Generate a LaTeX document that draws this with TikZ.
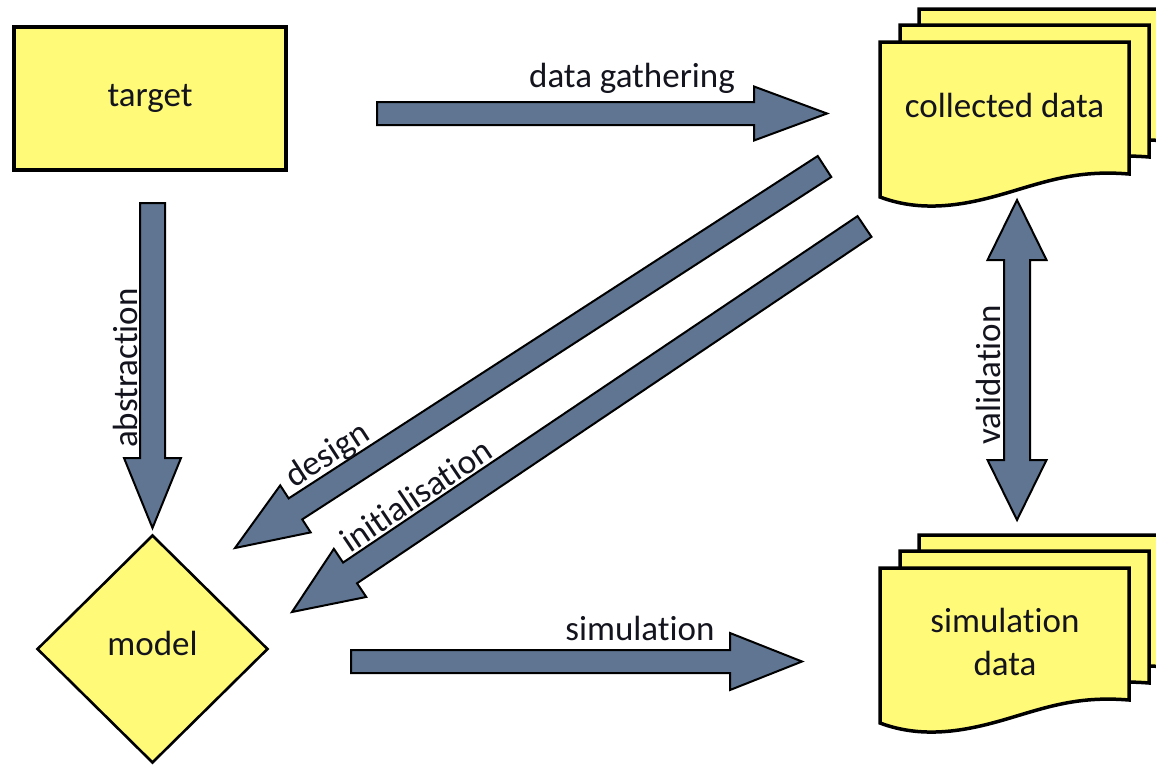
\documentclass[tikz,border=0pt]{standalone}
\usepackage{fontspec}
\setmainfont{Carlito}[Ligatures=NoCommon]
\usetikzlibrary{calc,shapes.geometric}
\definecolor{docyellow}{RGB}{255,250,120}
\definecolor{arrowfill}{RGB}{95,117,146}
\definecolor{txt}{RGB}{20,20,30}
% block arrow: from, to, shaft half width, head half width, head length (px)
\newcommand\blockarrow[5]{%
  \coordinate (hb) at ($(#2)!#5pt!(#1)$);
  \draw[barrow] ($(#1)!#3pt!90:(#2)$) -- ($(hb)!#3pt!90:(#2)$) -- ($(hb)!#4pt!90:(#2)$)
    -- (#2) -- ($(hb)!#4pt!-90:(#2)$) -- ($(hb)!#3pt!-90:(#2)$) -- ($(#1)!#3pt!-90:(#2)$) -- cycle;}
\newcommand\dblockarrow[5]{%
  \coordinate (ha) at ($(#1)!#5pt!(#2)$);
  \coordinate (hb) at ($(#2)!#5pt!(#1)$);
  \draw[barrow] (#1) -- ($(ha)!#4pt!90:(#2)$) -- ($(ha)!#3pt!90:(#2)$) -- ($(hb)!#3pt!90:(#2)$)
    -- ($(hb)!#4pt!90:(#2)$) -- (#2) -- ($(hb)!#4pt!-90:(#2)$) -- ($(hb)!#3pt!-90:(#2)$)
    -- ($(ha)!#3pt!-90:(#2)$) -- ($(ha)!#4pt!-90:(#2)$) -- cycle;}
\newcommand\docstack[2]{%
  \foreach \dx/\dy in {39/-33, 20/-17, 0/0} {
    \draw[docstyle, shift={(#1+\dx,#2+\dy)}] (0,0) -- (249,0) -- (249,132)
      .. controls (200,128) and (170,138) .. (130,150)
      .. controls (90,162) and (45,172) .. (0,155) -- cycle;
  }}
\begin{document}
\begin{tikzpicture}[x=1pt,y=-1pt,
  lbl/.style={font=\fontsize{35}{43}\selectfont, text=txt, inner sep=0pt},
  barrow/.style={draw=black, fill=arrowfill, line width=2pt, line join=miter},
  docstyle/.style={draw=black, fill=docyellow, line width=3.5pt},
  boxstyle/.style={draw=black, fill=docyellow, line width=3.3pt, lbl}]
\useasboundingbox (0,0) rectangle (1156,766);
\clip (0,0) rectangle (1156,766);
\fill[white] (0,0) rectangle (1156,766);

% nodes
\node[boxstyle, rectangle, minimum width=272pt, minimum height=143pt] (target) at (150,98.5) {target};
\node[boxstyle, diamond, line width=2.6pt, minimum width=231pt, minimum height=228pt, text depth=12pt] (model) at (152.5,649) {model};
\docstack{880}{42}
\node[lbl, anchor=base] (coll) at (1004.5,117) {collected data};
\docstack{880}{568}
\node[lbl, align=center] (simdata) at (1005,642) {simulation\\data};

% arrow end points
\coordinate (dg-s) at (377,113.5);  \coordinate (dg-e) at (827,113.5);
\coordinate (si-s) at (351,661.5);  \coordinate (si-e) at (802,661.5);
\coordinate (ab-s) at (152.5,203);  \coordinate (ab-e) at (152.5,528);
\coordinate (va-s) at (1017,200);   \coordinate (va-e) at (1017,520);
\coordinate (de-s) at (824.5,166.5);\coordinate (de-e) at (235,548);
\coordinate (in-s) at (864.5,226.5);\coordinate (in-e) at (292,612);

% arrows
\blockarrow{dg-s}{dg-e}{11.5}{27}{73}
\blockarrow{si-s}{si-e}{11.5}{28.5}{72}
\blockarrow{ab-s}{ab-e}{12.5}{28.5}{70}
\dblockarrow{va-s}{va-e}{13}{29.5}{60}
\blockarrow{de-s}{de-e}{12.5}{28}{72}
\blockarrow{in-s}{in-e}{12.5}{29}{70}

% labels
\node[lbl, anchor=base] (l-dg) at (632,87) {data gathering};
\node[lbl, anchor=base] (l-si) at (640,640) {simulation};
\node[lbl, anchor=base, rotate=90] (l-ab) at (137,368) {abstraction};
\node[lbl, anchor=base, rotate=90] (l-va) at (1000,375) {validation};
\node[lbl, rotate=33] (l-de) at (328,456) {design};
\node[lbl, rotate=34] (l-in) at (416,495) {initialisation};
\end{tikzpicture}
\end{document}
